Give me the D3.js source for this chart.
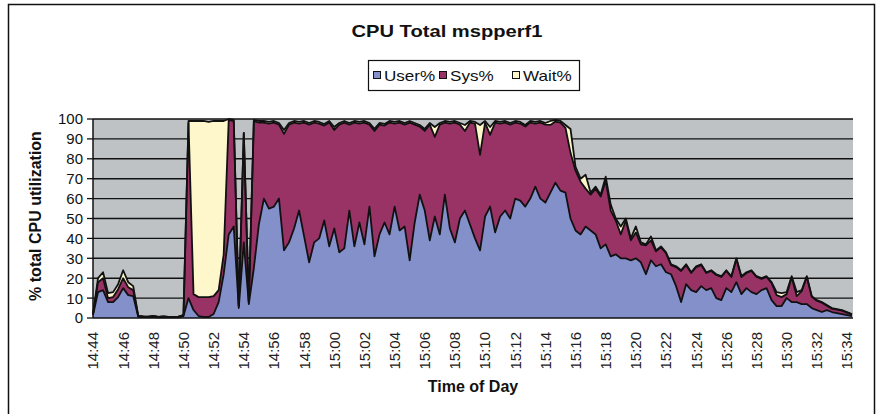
<!DOCTYPE html>
<html><head><meta charset="utf-8">
<script src="https://cdn.jsdelivr.net/npm/d3@7"></script>
<style>
body{margin:0;background:#fff}
svg{display:block}
text{font-family:"Liberation Sans",Arial,Helvetica,sans-serif}
</style>
</head><body>
<script>
// ---- data (20-second samples starting 14:44:00) ----
const startTime = "14:44";
const stepSeconds = 20;
const user = [1.5,13,14,8,8,10.5,15,11.5,11,0.6,0.4,0.4,0.5,0.3,0.4,0.3,0.3,0.3,1,10,
  4,1,0.5,0.5,2,8,22,42,46,5,38,7,25,47,60,55,56,60,34,38,
  45,54,41,28,38,40,49,36,45,33,35,54,36,48,37,56,31,42,48,42,
  56,44,46,29,48,62,54,39,51,42,62,45,38,50,54,47,40,34,51,56,
  43,51,54,50,60,59,56,60,66,60,58,63,68,64,63,50,44,42,46,44,
  42,35,37,31,32,30,30,29,30,28,22,29,26,27,23,22,16,8,17,14,
  13,16,14,15,10,9,15,13,18,12,15,13,12,14,15,9,6,6,10,8,
  8,7,7,5,4,3,4,3,2.5,2,1.5,1];
const sys = [0.5,5,6,2,2.5,4,5,4,3,0.4,0.4,0.3,0.5,0.3,0.4,0.3,0.3,0.4,0.5,88,
  8,9.5,10,10,9,6,10,57.5,53,1,55,1,74,51.2,38.2,42.7,42.2,37.2,58.5,59.2,
  53.2,43.7,57.2,69.2,60.2,57.7,47.7,62.2,49.5,64.2,63.2,43.2,62.2,49.7,61.2,41.2,63,55.2,48.7,56.2,
  41.7,54.2,51.2,69.2,49.2,34.2,40,58.2,40,55.2,36.2,52.7,60.2,47.2,40,51.2,57.7,48,47.2,36,
  55.2,46.7,44.2,47.2,38.2,38.7,40.2,38.2,31.7,38.2,39.2,34,30.7,34.2,32.5,33,30,26.5,19,18,
  23,26,32,23,17,12,19,10,13,9,14.5,10,7.5,8.5,9.6,4.6,9.6,15.6,9.6,8.6,
  12.6,10.6,8.6,8.6,11.6,11.6,8.6,7.6,11.6,8.6,7.6,10.6,8.6,5.6,5.6,8.6,5.5,4.5,2,12.5,
  3,6.5,13.7,5.7,4.7,4.7,2.2,1.7,1.7,1.7,1.2,0.7];
const wait = [0,2,3,2.5,2.5,2.5,4,2.5,2,0,0,0,0,0,0,0,0,0,0,1,
  87,88.5,88.5,88,88,85,67,0.5,0.5,0,0,0,0.5,0.8,0.8,0.8,0.8,0.8,2,0.8,
  0.8,0.8,0.8,0.8,0.8,0.8,0.8,0.8,1.5,0.8,0.8,0.8,0.8,0.8,0.8,0.8,1,0.8,0.8,0.8,
  0.8,0.8,0.8,0.8,0.8,0.8,1,0.8,5,0.8,0.8,0.8,0.8,0.8,3,0.8,0.8,15,0.8,4,
  0.8,0.8,0.8,0.8,0.8,0.8,0.8,0.8,0.8,0.8,0.8,2,0.8,0.8,1.5,12,2,1.5,7,1,
  1,1,2,3,1,4,1,1,3,1,0.5,2,0.5,0.5,0.4,0.4,0.4,0.4,0.4,0.4,
  0.4,0.4,0.4,0.4,0.4,0.4,0.4,0.4,0.4,0.4,0.4,0.4,0.4,0.4,0.4,0.4,1.5,2,1,0.5,
  2,0.5,0.3,0.3,0.3,0.3,0.3,0.3,0.3,0.3,0.3,0.3];
const seriesKeys = ["user","sys","wait"];
const seriesNames = ["User%","Sys%","Wait%"];
const seriesColors = ["#8390c9","#993366","#fdf7cb"];
const yTicks = [0,10,20,30,40,50,60,70,80,90,100];
const tickLabels = ["14:44","14:46","14:48","14:50","14:52","14:54","14:56","14:58",
  "15:00","15:02","15:04","15:06","15:08","15:10","15:12","15:14","15:16","15:18",
  "15:20","15:22","15:24","15:26","15:28","15:30","15:32","15:34"];
const titleText = "CPU Total mspperf1";
const xTitle = "Time of Day";
const yTitle = "% total CPU utilization";

// ---- chart ----
const W = 882, H = 414;
const toMin = s => { const [h, m] = s.split(":").map(Number); return h * 60 + m; };
const t0 = toMin(startTime);
const rows = user.map((u, i) => ({t: i * stepSeconds / 60, user: u, sys: sys[i], wait: wait[i]}));

const svg = d3.select("body").append("svg").attr("width", W).attr("height", H);
svg.append("rect").attr("width", W).attr("height", H).attr("fill", "#fff");
svg.append("rect").attr("x", 8.5).attr("y", 4.5).attr("width", 866).attr("height", 420)
  .attr("fill", "none").attr("stroke", "#111").attr("stroke-width", 1.5);

const x = d3.scaleLinear().domain([0, 50.4]).range([93, 853]);
const y = d3.scaleLinear().domain([0, 100]).range([318, 119]);

// plot background
svg.append("rect").attr("x", x.range()[0]).attr("y", y(100))
  .attr("width", x.range()[1] - x.range()[0]).attr("height", y(0) - y(100))
  .attr("fill", "#bec2c4");

// gridlines
svg.append("g").selectAll("line").data(yTicks.filter(v => v > 0)).join("line")
  .attr("x1", x.range()[0]).attr("x2", x.range()[1])
  .attr("y1", d => y(d)).attr("y2", d => y(d))
  .attr("stroke", "#111").attr("stroke-width", 1.4);

// stacked areas
const stack = d3.stack().keys(seriesKeys);
const layers = stack(rows);
const area = d3.area().x(d => x(d.data.t)).y0(d => y(d[0])).y1(d => y(d[1]));
const topLine = d3.line().x(d => x(d.data.t)).y(d => y(d[1]));
svg.append("g").selectAll("path").data(layers).join("path")
  .attr("d", area).attr("fill", (d, i) => seriesColors[i]);
svg.append("g").selectAll("path").data(layers).join("path")
  .attr("d", topLine).attr("fill", "none").attr("stroke", "#111")
  .attr("stroke-width", 1.8).attr("stroke-linejoin", "round");

// axes
const ax = svg.append("g");
ax.append("line").attr("x1", 93).attr("x2", 93).attr("y1", y(100)).attr("y2", y(0))
  .attr("stroke", "#111").attr("stroke-width", 1.5);
ax.append("line").attr("x1", 93).attr("x2", x.range()[1]).attr("y1", y(0)).attr("y2", y(0))
  .attr("stroke", "#111").attr("stroke-width", 1.5);
ax.selectAll(".yt").data(yTicks).join("line").attr("class", "yt")
  .attr("x1", 87).attr("x2", 93).attr("y1", d => y(d)).attr("y2", d => y(d))
  .attr("stroke", "#111").attr("stroke-width", 1.3);
ax.selectAll(".yl").data(yTicks).join("text").attr("class", "yl")
  .attr("x", 83).attr("y", d => y(d)).attr("dy", "0.36em")
  .attr("text-anchor", "end").attr("font-size", 15).attr("fill", "#111")
  .text(d => d);
ax.selectAll(".xl").data(tickLabels).join("text").attr("class", "xl")
  .attr("transform", d => `translate(${x(toMin(d) - t0)},332) rotate(-90)`)
  .attr("dy", "0.36em").attr("text-anchor", "end").attr("font-size", 15)
  .attr("fill", "#222").text(d => d);

// titles
svg.append("text").attr("transform", "translate(447,37) scale(1.26,1)")
  .attr("text-anchor", "middle").attr("font-size", 16).attr("font-weight", "bold")
  .attr("fill", "#111").text(titleText);
svg.append("text").attr("x", 473).attr("y", 392).attr("text-anchor", "middle")
  .attr("font-size", 16).attr("font-weight", "bold").attr("fill", "#111").text(xTitle);
svg.append("text").attr("transform", "translate(41,216) rotate(-90)")
  .attr("text-anchor", "middle").attr("font-size", 16).attr("font-weight", "bold")
  .attr("fill", "#111").text(yTitle);

// legend
const lg = svg.append("g");
lg.append("rect").attr("x", 368.5).attr("y", 60.5).attr("width", 211).attr("height", 30)
  .attr("fill", "#fff").attr("stroke", "#111").attr("stroke-width", 1.2);
const legX = [373, 439, 512];
seriesNames.forEach((n, i) => {
  lg.append("rect").attr("x", legX[i] + 0.5).attr("y", 71.5).attr("width", 7).attr("height", 7)
    .attr("fill", seriesColors[i]).attr("stroke", "#111").attr("stroke-width", 1);
  lg.append("text").attr("transform", `translate(${legX[i] + 11},80.5) scale(1.22,1)`)
    .attr("font-size", 14).attr("fill", "#111").text(n);
});
</script>
</body></html>
